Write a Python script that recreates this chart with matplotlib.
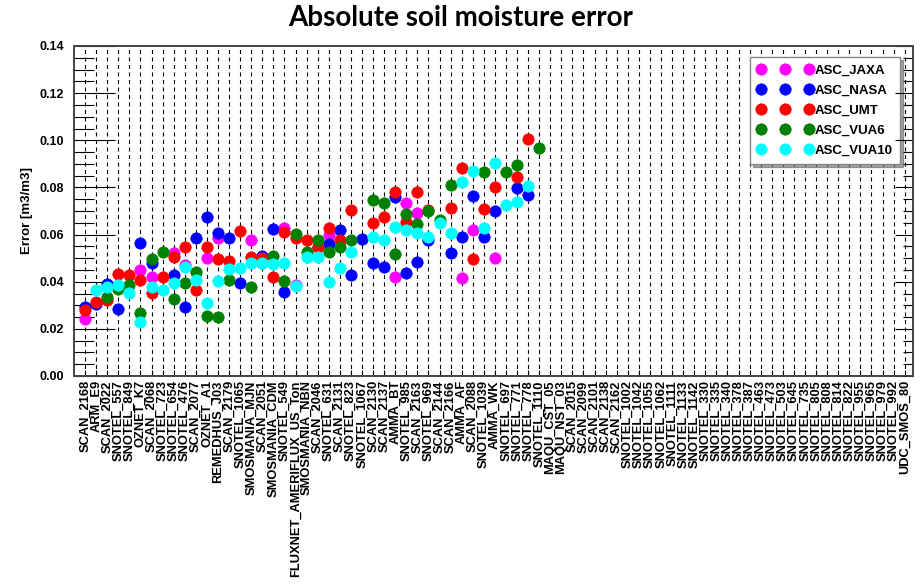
import numpy as np
import matplotlib
matplotlib.use('Agg')
import matplotlib.pyplot as plt

plt.rcParams['font.family'] = ['Liberation Sans', 'DejaVu Sans']
plt.rcParams['lines.scale_dashes'] = False

stations = [
    'SCAN_2168', 'ARM_E9', 'SCAN_2022', 'SNOTEL_557', 'SNOTEL_849', 'OZNET_K7',
    'SCAN_2068', 'SNOTEL_723', 'SNOTEL_654', 'SNOTEL_476', 'SCAN_2077', 'OZNET_A1',
    'REMEDHUS_J03', 'SCAN_2179', 'SNOTEL_1065', 'SMOSMANIA_MJN', 'SCAN_2051',
    'SMOSMANIA_CDM', 'SNOTEL_549', 'FLUXNET_AMERIFLUX_US_Ton', 'SMOSMANIA_NBN',
    'SCAN_2046', 'SNOTEL_631', 'SCAN_2131', 'SNOTEL_823', 'SNOTEL_1067', 'SCAN_2130',
    'SCAN_2137', 'AMMA_BT', 'SNOTEL_985', 'SCAN_2163', 'SNOTEL_969', 'SCAN_2144',
    'SCAN_2166', 'AMMA_AF', 'SCAN_2088', 'SNOTEL_1039', 'AMMA_WK', 'SNOTEL_697',
    'SNOTEL_771', 'SNOTEL_778', 'SNOTEL_1110', 'MAQU_CST_05', 'MAQU_NST_03',
    'SCAN_2015', 'SCAN_2099', 'SCAN_2101', 'SCAN_2138', 'SCAN_2162', 'SNOTEL_1002',
    'SNOTEL_1042', 'SNOTEL_1055', 'SNOTEL_1062', 'SNOTEL_1111', 'SNOTEL_1133',
    'SNOTEL_1142', 'SNOTEL_330', 'SNOTEL_335', 'SNOTEL_340', 'SNOTEL_378',
    'SNOTEL_387', 'SNOTEL_463', 'SNOTEL_473', 'SNOTEL_503', 'SNOTEL_645',
    'SNOTEL_735', 'SNOTEL_805', 'SNOTEL_808', 'SNOTEL_814', 'SNOTEL_822',
    'SNOTEL_955', 'SNOTEL_965', 'SNOTEL_979', 'SNOTEL_992', 'UDC_SMOS_80',
]

# values for the first 42 stations, the rest have no data
asc_jaxa = [0.0242, None, None, None, None, 0.0450, 0.0422, None, 0.0521, 0.0471,
            None, 0.0500, 0.0584, None, None, 0.0575, None, None, 0.0627, 0.0386,
            None, None, 0.0598, None, None, None, None, None, 0.0422, 0.0733,
            0.0690, None, None, None, 0.0417, 0.0619, None, 0.0499, None, None,
            None, None]
asc_nasa = [0.0294, 0.0304, 0.0391, 0.0285, None, 0.0563, 0.0478, None, 0.0429, 0.0294,
            0.0587, 0.0673, 0.0608, 0.0584, 0.0393, None, 0.0507, 0.0623, 0.0358, None,
            None, 0.0549, 0.0560, 0.0619, 0.0429, 0.0580, 0.0478, 0.0461, 0.0761, 0.0439,
            0.0485, 0.0577, None, 0.0521, 0.0588, 0.0764, 0.0591, 0.0700, None, 0.0796,
            0.0768, None]
asc_umt = [0.0280, 0.0316, 0.0323, 0.0433, 0.0429, 0.0408, 0.0351, 0.0419, 0.0504, 0.0549,
           0.0365, 0.0546, 0.0495, 0.0490, 0.0617, 0.0504, 0.0500, 0.0422, 0.0610, 0.0584,
           0.0577, 0.0549, 0.0627, 0.0577, 0.0704, None, 0.0651, 0.0676, 0.0782, 0.0655,
           0.0782, 0.0704, None, 0.0711, 0.0881, 0.0496, 0.0709, 0.0801, None, 0.0846,
           0.1006, None]
asc_vua6 = [None, None, 0.0337, 0.0369, 0.0386, 0.0269, 0.0495, 0.0528, 0.0327, 0.0396,
            0.0443, 0.0255, 0.0252, 0.0408, None, 0.0377, 0.0480, 0.0507, 0.0401, 0.0601,
            0.0528, 0.0577, 0.0528, 0.0549, 0.0577, None, 0.0747, 0.0733, 0.0518, 0.0687,
            0.0645, 0.0700, 0.0660, 0.0810, None, None, 0.0865, None, 0.0867, 0.0895,
            None, 0.0969]
asc_vua10 = [None, 0.0365, 0.0377, 0.0386, 0.0351, 0.0227, 0.0379, 0.0365, 0.0393, 0.0464,
             0.0408, 0.0309, 0.0405, 0.0453, 0.0457, 0.0478, 0.0478, 0.0475, 0.0481, 0.0382,
             0.0506, 0.0506, 0.0400, 0.0457, 0.0528, None, 0.0588, 0.0577, 0.0634, 0.0619,
             0.0605, 0.0591, 0.0651, 0.0605, 0.0825, 0.0871, 0.0627, 0.0905, 0.0726, 0.0738,
             0.0806, None]


def pad(values):
    arr = np.full(len(stations), np.nan)
    arr[:len(values)] = [np.nan if v is None else v for v in values]
    return arr


series = [
    ('ASC_JAXA', asc_jaxa, '#ff00ff'),
    ('ASC_NASA', asc_nasa, '#0000ff'),
    ('ASC_UMT', asc_umt, '#ff0000'),
    ('ASC_VUA6', asc_vua6, '#008000'),
    ('ASC_VUA10', asc_vua10, '#00ffff'),
]

W, H = 921, 587
fig = plt.figure(figsize=(W / 100, H / 100), dpi=100)
ax = fig.add_axes([74 / W, 1 - 376 / H, (913 - 74) / W, (376 - 46) / H])

x = np.arange(1, len(stations) + 1)
for name, vals, col in series:
    ax.plot(x, pad(vals), 'o', ms=8.2, mew=0.5, color=col, mec=col, label=name, zorder=3)

ax.set_xlim(0, len(stations) + 0.75)
ax.set_ylim(0, 0.14)

ax.set_xticks(x)
ax.set_xticklabels(stations, rotation=90, fontsize=9.3, fontweight='bold')
ax.tick_params(axis='x', direction='in', length=4, width=0.8, pad=3)
ax.set_axisbelow(True)
ax.grid(axis='x', color='black', lw=0.8, linestyle=(0, (2.9, 2.5)))

yt = np.arange(0, 0.1401, 0.02)
ax.set_yticks(yt)
ax.set_yticklabels(['%.2f' % v for v in yt], fontsize=9, fontweight='bold')
ax.set_yticks(np.arange(0, 0.1401, 0.005), minor=True)
ax.tick_params(axis='y', which='major', direction='in', length=29.5, width=0.8, pad=7)
ax.tick_params(axis='y', which='minor', direction='in', length=14.4, width=0.8)

# shorter ticks on the right side
ax2 = ax.twinx()
ax2.set_ylim(0, 0.14)
ax2.set_yticks(yt)
ax2.set_yticks(np.arange(0, 0.1401, 0.005), minor=True)
ax2.tick_params(axis='y', which='major', direction='in', length=13, width=0.8, labelright=False)
ax2.tick_params(axis='y', which='minor', direction='in', length=7, width=0.8)

for a in (ax, ax2):
    for sp in a.spines.values():
        sp.set_color('#444444')
        sp.set_linewidth(1.2)

leg = ax.legend(loc='upper right', bbox_to_anchor=(0.985, 0.967), borderaxespad=0,
                numpoints=3, handlelength=4.2, handletextpad=0.2, labelspacing=0.6,
                borderpad=0.55, fancybox=False, shadow=True, framealpha=1,
                edgecolor='#888888', prop={'weight': 'bold', 'size': 9.5})
leg.set_zorder(10)

fig.text(0.5, 1 - 18 / H, 'Absolute soil moisture error', ha='center', va='center',
         fontsize=20, fontweight='bold', family='Lato')
fig.text(27 / W, 1 - 211 / H, 'Error [m3/m3]', rotation=90, ha='center', va='center',
         fontsize=9.5, fontweight='bold')

fig.savefig('out.png', dpi=100)
